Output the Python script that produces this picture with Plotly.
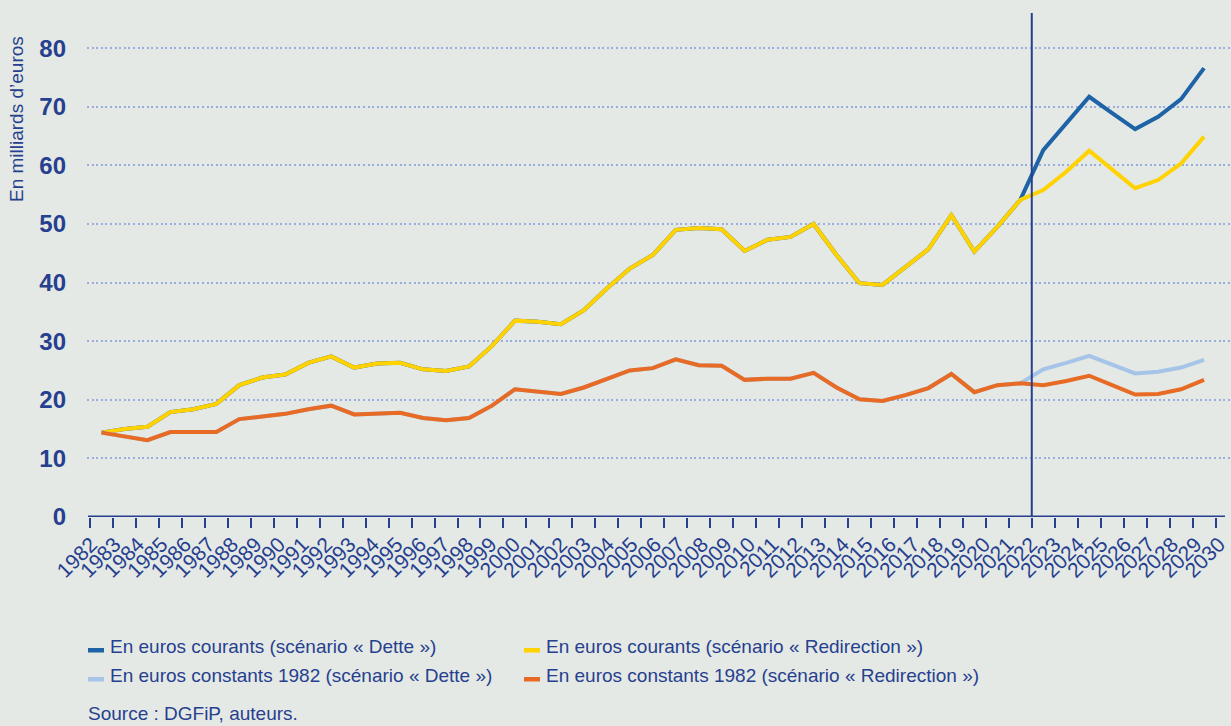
import plotly.graph_objects as go

years = ["1982", "1983", "1984", "1985", "1986", "1987", "1988", "1989", "1990", "1991",
         "1992", "1993", "1994", "1995", "1996", "1997", "1998", "1999", "2000", "2001",
         "2002", "2003", "2004", "2005", "2006", "2007", "2008", "2009", "2010", "2011",
         "2012", "2013", "2014", "2015", "2016", "2017", "2018", "2019", "2020", "2021",
         "2022", "2023", "2024", "2025", "2026", "2027", "2028", "2029", "2030"]

courants_redirection = [14.4, 15.0, 15.4, 17.9, 18.4, 19.3, 22.5, 23.8, 24.3, 26.3,
                        27.4, 25.5, 26.2, 26.3, 25.2, 24.9, 25.7, 29.2, 33.5, 33.3,
                        32.9, 35.3, 39.0, 42.4, 44.7, 49.0, 49.3, 49.1, 45.4, 47.3,
                        47.8, 50.0, 44.7, 39.9, 39.6, 42.7, 45.7, 51.5, 45.3, 49.5,
                        54.1, 55.8, 58.9, 62.5, 59.3, 56.1, 57.5, 60.3, 64.9]

courants_dette = [14.4, 15.0, 15.4, 17.9, 18.4, 19.3, 22.5, 23.8, 24.3, 26.3,
                  27.4, 25.5, 26.2, 26.3, 25.2, 24.9, 25.7, 29.2, 33.5, 33.3,
                  32.9, 35.3, 39.0, 42.4, 44.7, 49.0, 49.3, 49.1, 45.4, 47.3,
                  47.8, 50.0, 44.7, 39.9, 39.6, 42.7, 45.7, 51.5, 45.3, 49.5,
                  54.1, 62.6, 67.2, 71.7, 68.9, 66.2, 68.3, 71.3, 76.6]

constants_redirection = [14.4, 13.8, 13.1, 14.5, 14.5, 14.5, 16.7, 17.2, 17.6, 18.4,
                         19.0, 17.5, 17.7, 17.8, 16.9, 16.5, 16.9, 19.0, 21.8, 21.4,
                         21.0, 22.1, 23.5, 25.0, 25.4, 26.9, 25.9, 25.8, 23.4, 23.6,
                         23.6, 24.6, 22.1, 20.1, 19.8, 20.8, 22.0, 24.4, 21.3, 22.5,
                         22.8, 22.5, 23.2, 24.1, 22.5, 20.9, 21.0, 21.8, 23.4]

constants_dette = [14.4, 13.8, 13.1, 14.5, 14.5, 14.5, 16.7, 17.2, 17.6, 18.4,
                   19.0, 17.5, 17.7, 17.8, 16.9, 16.5, 16.9, 19.0, 21.8, 21.4,
                   21.0, 22.1, 23.5, 25.0, 25.4, 26.9, 25.9, 25.8, 23.4, 23.6,
                   23.6, 24.6, 22.1, 20.1, 19.8, 20.8, 22.0, 24.4, 21.3, 22.5,
                   22.8, 25.2, 26.3, 27.5, 26.0, 24.5, 24.8, 25.5, 26.8]

y_ticks = [0, 10, 20, 30, 40, 50, 60, 70, 80]

series_names = [
    "En euros courants (scénario « Dette »)",
    "En euros courants (scénario « Redirection »)",
    "En euros constants 1982 (scénario « Dette »)",
    "En euros constants 1982 (scénario « Redirection »)",
]
series_values = [courants_dette, courants_redirection, constants_dette, constants_redirection]
series_colors = ["#1d63a6", "#ffd200", "#a5c4e8", "#e76b24"]

NAVY = "#273f8f"
BG = "#e4e9e5"
FONT = "Liberation Sans, Arial, sans-serif"

W, H = 1231, 726
ML, MR, MT, MB = 87, 0, 13, 209
PW, PH = W - ML - MR, H - MT - MB

# category axis: 22.97 px per year, first boundary 3 px right of the plot edge
CAT_PX = 22.97
x_lo = -0.5 - 3 / CAT_PX
x_hi = x_lo + PW / CAT_PX

# year labels are spread slightly wider than the categories in the original
LAB_PX = 23.5
LAB_X0 = 91.0
lab_lo = -(LAB_X0 - ML) / LAB_PX
lab_hi = lab_lo + PW / LAB_PX


def px(x):
    return (x - ML) / PW


def py(y):
    return (H - MB - y) / PH


fig = go.Figure()
for name, vals, col in zip(series_names, series_values, series_colors):
    fig.add_trace(go.Scatter(x=years, y=vals, mode="lines", name=name,
                             line=dict(color=col, width=4), showlegend=False))
# empty trace so that the label axis (x2) is drawn
fig.add_trace(go.Scatter(x=[0], y=[None], xaxis="x2", mode="lines",
                         showlegend=False, hoverinfo="skip"))

shapes = [
    dict(type="line", xref="x", yref="y", x0=40.5, x1=40.5, y0=0, y1=86,
         line=dict(color=NAVY, width=2)),
    dict(type="line", xref="paper", yref="y", x0=px(88), x1=px(1225), y0=0, y1=0,
         line=dict(color=NAVY, width=3)),
]
annotations = [dict(text="En milliards d’euros", xref="paper", yref="paper",
                    x=px(16), y=py(119), textangle=-90, showarrow=False,
                    xanchor="center", yanchor="middle",
                    font=dict(family=FONT, size=19, color=NAVY))]

leg_pos = [(88, 646.5), (524, 646.5), (88, 675.5), (524, 675.5)]
for (lx, ly), name, col in zip(leg_pos, series_names, series_colors):
    shapes.append(dict(type="rect", xref="paper", yref="paper",
                       x0=px(lx), x1=px(lx + 16), y0=py(ly + 1.5), y1=py(ly + 6),
                       fillcolor=col, line=dict(width=0)))
    annotations.append(dict(text=name, xref="paper", yref="paper",
                            x=px(lx + 20), y=py(ly), showarrow=False,
                            xanchor="left", yanchor="middle",
                            font=dict(family=FONT, size=19, color=NAVY)))

annotations.append(dict(text="Source : DGFiP, auteurs.", xref="paper", yref="paper",
                        x=px(86), y=py(713), showarrow=False,
                        xanchor="left", yanchor="middle",
                        font=dict(family=FONT, size=19, color=NAVY)))

fig.update_layout(
    width=W, height=H, autosize=False,
    margin=dict(l=ML, r=MR, t=MT, b=MB, pad=0),
    paper_bgcolor=BG, plot_bgcolor=BG,
    font=dict(family=FONT, color=NAVY),
    shapes=shapes, annotations=annotations,
    xaxis=dict(type="category", categoryorder="array", categoryarray=years,
               range=[x_lo, x_hi], tickson="boundaries", ticks="outside",
               tickmode="linear", tick0=0, dtick=1,
               ticklen=10, tickwidth=2, tickcolor=NAVY, showline=False,
               showgrid=False, showticklabels=False, zeroline=False),
    xaxis2=dict(overlaying="x", anchor="y", side="bottom", range=[lab_lo, lab_hi],
                tickmode="array", tickvals=list(range(len(years))), ticktext=years,
                ticks="", showline=False, showgrid=False, zeroline=False,
                tickangle=-45, ticklabelstandoff=10, ticklabeloverflow="allow",
                tickfont=dict(family=FONT, size=21, color=NAVY)),
    yaxis=dict(range=[0, 86], tickvals=y_ticks, showgrid=True,
               gridcolor="#9aade0", gridwidth=2, griddash="2px,2.6px",
               showline=False, zeroline=False, ticks="", ticklabelstandoff=20,
               tickfont=dict(family=FONT, size=24, color=NAVY, weight="bold")),
)

fig.write_html("out.html", config={"displayModeBar": False},
               post_script="document.body.style.margin='0';document.body.style.background='#e4e9e5';")
